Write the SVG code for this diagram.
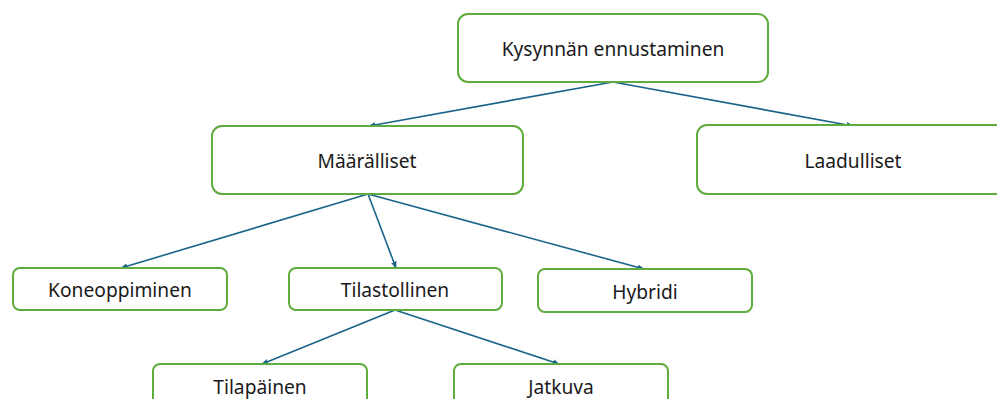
<svg xmlns="http://www.w3.org/2000/svg" width="997" height="399" viewBox="0 0 997 399">
<defs>
<style>
.box{fill:#fff;stroke:#5fac3e;stroke-width:2}
.lbl{font-family:"Noto Sans","Open Sans",sans-serif;font-size:19.2px;fill:#1a1a1a;text-anchor:middle;dominant-baseline:central}
.con{stroke:#1a6389;stroke-width:1.6;fill:none;marker-end:url(#ah)}
</style>
<marker id="ah" viewBox="0 0 10 10" refX="9" refY="5" markerWidth="7" markerHeight="7" orient="auto" markerUnits="userSpaceOnUse">
<path d="M0,1 L10,5 L0,9 z" fill="#1a6389"/>
</marker>
</defs>
<rect width="997" height="399" fill="#fff"/>
<g id="connectors">
<line class="con" x1="613" y1="82" x2="369" y2="126"/>
<line class="con" x1="613" y1="82" x2="853" y2="126"/>
<line class="con" x1="368" y1="194" x2="121" y2="268"/>
<line class="con" x1="368" y1="194" x2="396" y2="268"/>
<line class="con" x1="368" y1="194" x2="644" y2="269"/>
<line class="con" x1="395" y1="310" x2="262" y2="364"/>
<line class="con" x1="395" y1="310" x2="559" y2="364"/>
</g>
<g id="n-kysynnan">
<rect class="box" x="458" y="14" width="310" height="68" rx="10"/>
<text class="lbl" x="613" y="48">Kysynnän ennustaminen</text>
</g>
<g id="n-maaralliset">
<rect class="box" x="212" y="126" width="311" height="68" rx="10"/>
<text class="lbl" x="367" y="160">Määrälliset</text>
</g>
<g id="n-laadulliset">
<rect class="box" x="697" y="125" width="312" height="69" rx="10"/>
<text class="lbl" x="853" y="160">Laadulliset</text>
</g>
<g id="n-koneoppiminen">
<rect class="box" x="13" y="268" width="214" height="42" rx="7"/>
<text class="lbl" x="120" y="289">Koneoppiminen</text>
</g>
<g id="n-tilastollinen">
<rect class="box" x="289" y="268" width="213" height="42" rx="7"/>
<text class="lbl" x="395" y="289">Tilastollinen</text>
</g>
<g id="n-hybridi">
<rect class="box" x="538" y="269" width="214" height="43" rx="7"/>
<text class="lbl" x="645" y="291">Hybridi</text>
</g>
<g id="n-tilapainen">
<rect class="box" x="153" y="364" width="214" height="42" rx="7"/>
<text class="lbl" x="260" y="386">Tilapäinen</text>
</g>
<g id="n-jatkuva">
<rect class="box" x="454" y="364" width="214" height="42" rx="7"/>
<text class="lbl" x="561" y="386">Jatkuva</text>
</g>
</svg>
